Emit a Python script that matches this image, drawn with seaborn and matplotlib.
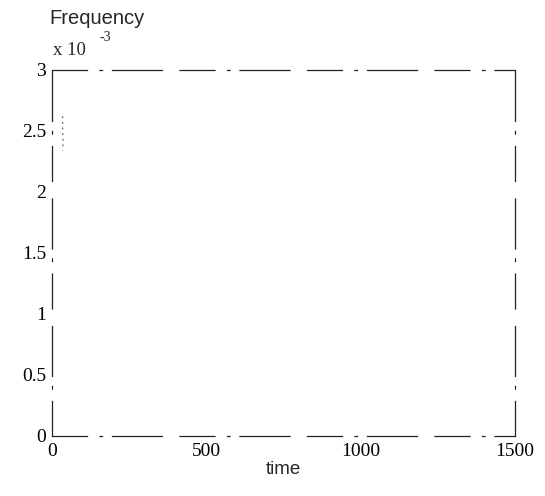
import numpy as np
import pandas as pd
import seaborn as sns
import matplotlib.pyplot as plt

# faint trace visible near the left edge of the scan
time = [35, 35, 36, 36]
frequency = [2.62e-3, 2.52e-3, 2.45e-3, 2.34e-3]

x_ticks = [0, 500, 1000, 1500]
y_ticks = [0, 0.5e-3, 1e-3, 1.5e-3, 2e-3, 2.5e-3, 3e-3]
y_tick_labels = ["0", "0.5", "1", "1.5", "2", "2.5", "3"]

df = pd.DataFrame({"time": time, "frequency": frequency})

sns.set_style("white")
plt.rcParams["font.family"] = ["Liberation Serif", "DejaVu Serif"]

fig = plt.figure(figsize=(5.45, 4.96), dpi=100)
ax = fig.add_axes([0.095, 0.121, 0.85, 0.738])

sns.lineplot(data=df, x="time", y="frequency", ax=ax, color="#666666",
             linewidth=0.9, linestyle=(0, (1.5, 3)), estimator=None, sort=False)

ax.set_xlim(0, 1500)
ax.set_ylim(0, 3e-3)
ax.set_xticks(x_ticks)
ax.set_yticks(y_ticks)
ax.set_yticklabels(y_tick_labels)
ax.tick_params(length=0, labelsize=14, colors="black")
ax.tick_params(axis="y", pad=4)
ax.tick_params(axis="x", pad=5)

for side, sp in ax.spines.items():
    sp.set_visible(True)
    sp.set_color("#222222")
    sp.set_linewidth(0.9)
    sp.set_linestyle((0, (28, 10, 2, 8, 40, 14)))

ax.set_xlabel("time", family=["Liberation Sans"], fontsize=13.5, labelpad=1)
ax.set_ylabel("")
fig.text(0.178, 0.963, "Frequency", family=["Liberation Sans"], fontsize=14.5,
         ha="center", va="center")
fig.text(0.097, 0.899, "x 10", fontsize=13.5, ha="left", va="center")
fig.text(0.182, 0.925, "-3", fontsize=10, ha="left", va="center")

fig.savefig("out.png", dpi=100)
